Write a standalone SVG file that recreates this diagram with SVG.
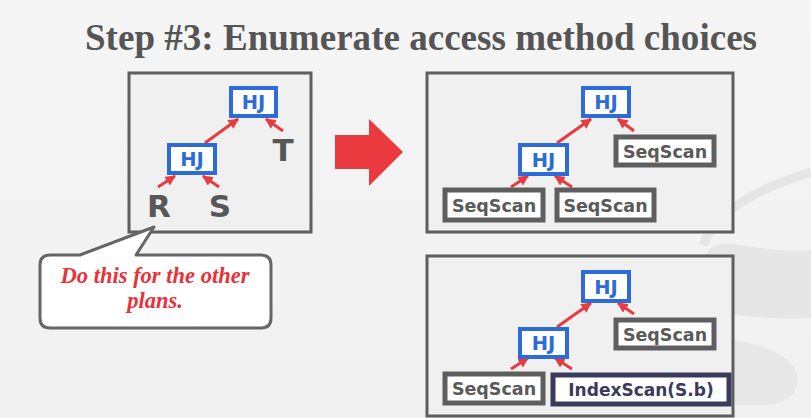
<svg xmlns="http://www.w3.org/2000/svg" width="811" height="418" viewBox="0 0 811 418">
<defs>
<linearGradient id="bg" x1="0" y1="0" x2="0" y2="1">
<stop offset="0" stop-color="#f5f5f5"/>
<stop offset="1" stop-color="#f1f1f1"/>
</linearGradient>
<marker id="ah" viewBox="0 0 10 10" refX="9" refY="5" markerWidth="3.5" markerHeight="3.5" orient="auto" markerUnits="strokeWidth">
<path d="M0,0 L10,5 L0,10 Z" fill="#ea3a3f"/>
</marker>
</defs>
<style>
.panel{fill:#f0f0f0;stroke:#5e5e5e;stroke-width:3}
.hj rect{fill:#fff;stroke:#2d6bd9;stroke-width:4}
.hj text{fill:#2d6bd9;font-family:"DejaVu Sans",sans-serif;font-weight:bold;font-size:19.5px;text-anchor:middle}
.scan rect{fill:#fff;stroke:#5e5e5e;stroke-width:5}
.scan text{fill:#5a5a5a;font-family:"DejaVu Sans",sans-serif;font-weight:bold;font-size:17.5px;text-anchor:middle}
.idx rect{fill:#fff;stroke:#3a3a5c;stroke-width:5}
.idx text{fill:#3a3a5c;font-family:"DejaVu Sans",sans-serif;font-weight:bold;font-size:17px;text-anchor:middle}
.rel text{fill:#575757;font-family:"DejaVu Sans",sans-serif;font-weight:bold;font-size:31px;text-anchor:middle}
.edge{stroke:#ea3a3f;stroke-width:3;fill:none;marker-end:url(#ah)}
</style>
<rect width="811" height="418" fill="url(#bg)"/>
<!-- faint watermark -->
<g fill="none">
<path d="M703 245 Q720 200 811 172" stroke="#e5e5e5" stroke-width="9"/>
<path d="M706 255 Q712 240 740 245 Q780 252 811 250 L811 318 Q760 320 720 312 Q706 308 706 290 Z" fill="#e6e6e6"/>
<path d="M735 340 Q790 350 797 375 Q800 400 770 405 L735 405 Z" fill="#e8e8e8"/>
</g>
<text x="421" y="50" text-anchor="middle" font-family="Liberation Serif,serif" font-weight="bold" font-size="37" fill="#555555" textLength="672" lengthAdjust="spacingAndGlyphs">Step #3: Enumerate access method choices</text>

<g id="panel-left">
<rect class="panel" x="129" y="73" width="182" height="159"/>
</g>
<g id="panel-top">
<rect class="panel" x="427" y="73" width="306" height="159"/>
</g>
<g id="panel-bottom">
<rect class="panel" x="427" y="256" width="306" height="160"/>
</g>

<g id="connectors">
<line class="edge" x1="158" y1="187" x2="175" y2="176"/>
<line class="edge" x1="219" y1="187" x2="203" y2="176"/>
<line class="edge" x1="205" y1="143" x2="238" y2="119"/>
<line class="edge" x1="283" y1="131" x2="266" y2="119"/>
<line class="edge" x1="511" y1="187" x2="528" y2="176"/>
<line class="edge" x1="572" y1="187" x2="555" y2="176"/>
<line class="edge" x1="557" y1="143" x2="591" y2="119"/>
<line class="edge" x1="634" y1="131" x2="618" y2="119"/>
<line class="edge" x1="511" y1="369" x2="528" y2="358"/>
<line class="edge" x1="572" y1="369" x2="555" y2="358"/>
<line class="edge" x1="557" y1="327" x2="591" y2="303"/>
<line class="edge" x1="634" y1="314" x2="618" y2="303"/>
</g>

<g id="l-hj-top" class="hj"><rect x="231" y="88" width="45" height="28"/><text x="253.5" y="109">HJ</text></g>
<g id="l-hj-low" class="hj"><rect x="169" y="145" width="46" height="28"/><text x="192" y="166">HJ</text></g>
<g id="l-T" class="rel"><text x="283" y="161">T</text></g>
<g id="l-R" class="rel"><text x="159" y="217">R</text></g>
<g id="l-S" class="rel"><text x="220" y="217">S</text></g>

<g id="big-arrow"><path d="M335 135 L369 135 L369 119 L403 152 L369 186 L369 169 L335 169 Z" fill="#ea3a3f"/></g>

<g id="callout">
<path d="M50 255 L80 255 L154 227 L136 255 L261 255 Q271 255 271 265 L271 318 Q271 328 261 328 L50 328 Q40 328 40 318 L40 265 Q40 255 50 255 Z" fill="#ffffff" stroke="#666666" stroke-width="3" stroke-linejoin="round"/>
<text x="155" y="283" text-anchor="middle" font-family="Liberation Serif,serif" font-style="italic" font-weight="bold" font-size="22.5" fill="#e8323a">Do this for the other</text>
<text x="155" y="308" text-anchor="middle" font-family="Liberation Serif,serif" font-style="italic" font-weight="bold" font-size="22.5" fill="#e8323a">plans.</text>
</g>

<g id="t-hj-top" class="hj"><rect x="583" y="88" width="46" height="28"/><text x="606" y="109">HJ</text></g>
<g id="t-hj-low" class="hj"><rect x="520" y="145" width="47" height="29"/><text x="543.5" y="166.5">HJ</text></g>
<g id="t-scan-r" class="scan"><rect x="616" y="137" width="98" height="28"/><text x="665" y="157.5">SeqScan</text></g>
<g id="t-scan-bl" class="scan"><rect x="445" y="190" width="98" height="30"/><text x="494" y="211.5">SeqScan</text></g>
<g id="t-scan-bm" class="scan"><rect x="557" y="190" width="97" height="30"/><text x="605.5" y="211.5">SeqScan</text></g>

<g id="b-hj-top" class="hj"><rect x="583" y="272" width="46" height="29"/><text x="606" y="293.5">HJ</text></g>
<g id="b-hj-low" class="hj"><rect x="520" y="329" width="47" height="28"/><text x="543.5" y="350">HJ</text></g>
<g id="b-scan-r" class="scan"><rect x="616" y="320" width="98" height="28"/><text x="665" y="340.5">SeqScan</text></g>
<g id="b-scan-bl" class="scan"><rect x="445" y="374" width="98" height="29"/><text x="494" y="395">SeqScan</text></g>
<g id="b-idx" class="idx"><rect x="553" y="375" width="176" height="29"/><text x="641" y="396">IndexScan(S.b)</text></g>
</svg>
